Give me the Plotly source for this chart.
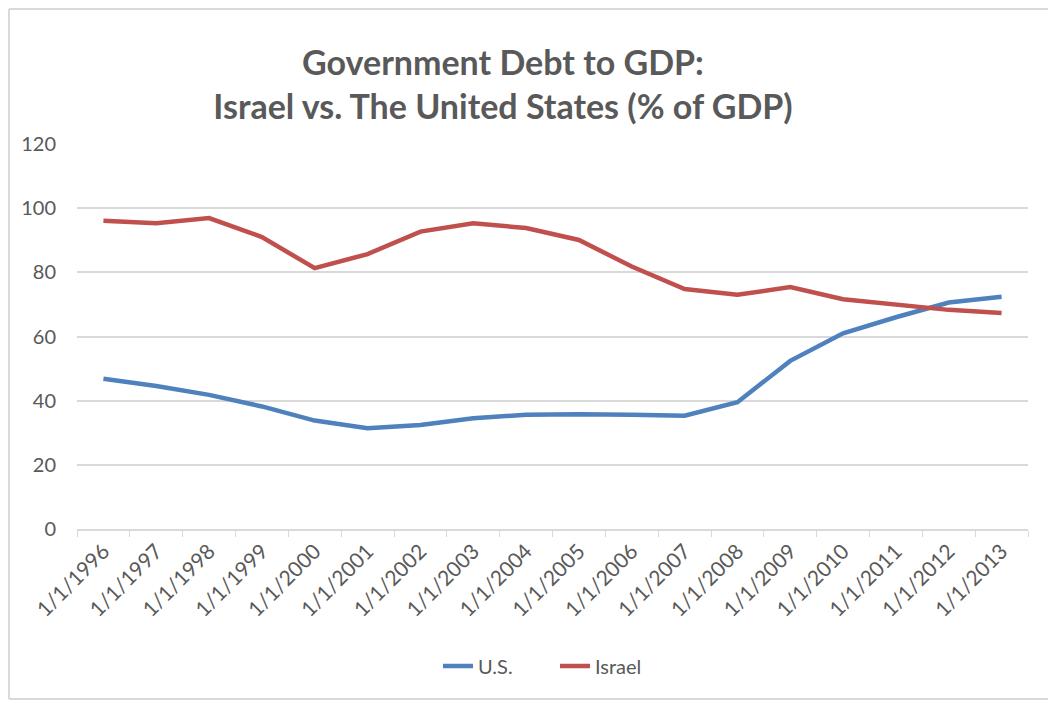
import plotly.graph_objects as go

years = list(range(1996, 2014))
categories = [f"1/1/{y}" for y in years]
us_debt = [46.8, 44.6, 41.8, 38.2, 33.8, 31.4, 32.4, 34.5, 35.6, 35.8,
           35.6, 35.3, 39.5, 52.4, 61.0, 66.0, 70.6, 72.4]
israel_debt = [96.1, 95.3, 96.9, 91.0, 81.3, 85.7, 92.7, 95.3, 93.8, 90.1,
               81.8, 74.8, 73.0, 75.4, 71.6, 69.9, 68.3, 67.3]
y_ticks = [0, 20, 40, 60, 80, 100, 120]

FONT = "Lato, 'Open Sans', sans-serif"
GRAY = "#595959"
BORDER = "#d9d9d9"

fig = go.Figure()
fig.add_trace(go.Scatter(x=categories, y=us_debt, mode="lines", name="U.S.",
                         line=dict(color="#4F81BD", width=4.5)))
fig.add_trace(go.Scatter(x=categories, y=israel_debt, mode="lines", name="Israel",
                         line=dict(color="#C0504D", width=4.5)))

# page body has an 8px margin; figure occupies screen 8..1049 x 8..700
W, H = 1041, 692
ml, mr, mt, mb = 69, 21, 136, 171
pw, ph = W - ml - mr, H - mt - mb

# chart outline (left, top, bottom edges) in paper units
lx = -(ml - 1) / pw
ty = 1 + (mt - 1) / ph
by = -(mb - 1) / ph
rx = 1 + (mr - 1) / pw

fig.update_layout(
    width=W, height=H,
    margin=dict(l=ml, r=mr, t=mt, b=mb),
    paper_bgcolor="white", plot_bgcolor="white",
    font=dict(family=FONT, color=GRAY, size=20),
    title=dict(text="<b>Government Debt to GDP:<br>Israel vs. The United States (% of GDP)</b>",
               x=0.4755, xanchor="center", xref="container",
               y=1 - 67 / H, yanchor="top", yref="container",
               font=dict(size=34, color=GRAY, family=FONT)),
    showlegend=True,
    legend=dict(orientation="h", x=(438 - 77) / pw, xanchor="left",
                y=-(137 / ph), yanchor="middle", entrywidth=72,
                font=dict(size=20, color=GRAY, family=FONT)),
    xaxis=dict(type="category", range=[-0.5, len(categories) - 0.5],
               showline=True, linecolor=BORDER, linewidth=1.5,
               ticks="outside", tickson="boundaries", ticklen=6, tickcolor=BORDER,
               tickangle=-45, showgrid=False, tickfont=dict(size=21, color=GRAY)),
    yaxis=dict(range=[0, 120], tickvals=y_ticks, showgrid=True, gridcolor=BORDER,
               gridwidth=1.5, zeroline=False, showline=False, ticks="",
               ticklabelstandoff=20, tickfont=dict(size=20, color=GRAY)),
    shapes=[
        dict(type="line", xref="paper", yref="paper", x0=lx, x1=lx, y0=by, y1=ty,
             line=dict(color=BORDER, width=2)),
        dict(type="line", xref="paper", yref="paper", x0=lx, x1=rx, y0=ty, y1=ty,
             line=dict(color=BORDER, width=2)),
        dict(type="line", xref="paper", yref="paper", x0=lx, x1=rx, y0=by, y1=by,
             line=dict(color=BORDER, width=2)),
    ],
)

fig.write_html("out.html")
